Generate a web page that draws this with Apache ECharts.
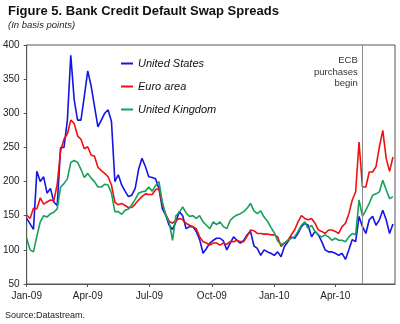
<!DOCTYPE html>
<html>
<head>
<meta charset="utf-8">
<script src="https://cdn.jsdelivr.net/npm/echarts@6/dist/echarts.min.js"></script>
<style>
  html, body { margin: 0; padding: 0; background: #fff; }
  #chart { width: 400px; height: 324px; }
</style>
</head>
<body>
<div id="chart"></div>
<script>
// Sampling grid: one observation every five days from the start date
const startDate = [2009, 0, 1];
const stepDays = 5;

// Bank CDS spreads, basis points
const unitedStates = [
  146, 138, 130, 215, 200, 207, 183, 190, 170, 165,
  250, 250, 290, 385, 320, 290, 290, 325, 362, 340,
  310, 280, 290, 300, 305, 288, 200, 210, 195, 186,
  178, 180, 190, 218, 234, 222, 207, 206, 204, 190,
  160, 151, 136, 130, 141, 156, 150, 131, 134, 134,
  127, 115, 95, 102, 110, 114, 117, 117, 113, 100,
  110, 119, 114, 110, 114, 122, 127, 106, 102, 92,
  100, 97, 95, 92, 97, 90, 105, 112, 119, 117,
  124, 134, 139, 136, 119, 127, 122, 112, 100, 97,
  97, 95, 92, 95, 86, 100, 115, 112, 149, 134,
  124, 144, 149, 136, 144, 158, 144, 124, 138
];
const euroArea = [
  151, 146, 161, 160, 176, 167, 170, 173, 172, 196,
  245, 262, 270, 290, 285, 267, 262, 248, 251, 239,
  237, 221, 216, 212, 207, 195, 170, 166, 168, 165,
  162, 162, 167, 173, 178, 182, 181, 181, 188, 190,
  167, 152, 142, 139, 143, 146, 144, 139, 136, 134,
  131, 119, 112, 110, 107, 110, 110, 107, 110, 108,
  112, 112, 114, 112, 112, 120, 129, 128, 124, 124,
  123, 123, 122, 122, 119, 105, 110, 114, 122, 129,
  141, 150, 146, 144, 146, 139, 129, 127, 124, 129,
  129, 127, 124, 134, 139, 153, 173, 185, 258, 192,
  192, 214, 214, 222, 251, 275, 234, 215, 236
];
const unitedKingdom = [
  117, 100, 97, 120, 141, 150, 148, 153, 155, 160,
  192, 197, 204, 228, 231, 228, 218, 206, 212, 205,
  200, 192, 192, 196, 195, 183, 156, 156, 152, 158,
  160, 166, 174, 183, 185, 186, 192, 186, 194, 200,
  170, 150, 141, 114, 150, 155, 163, 154, 149, 150,
  146, 150, 141, 136, 131, 141, 137, 141, 134, 131,
  143, 148, 151, 153, 156, 161, 168, 157, 153, 157,
  148, 142, 133, 125, 113, 108, 110, 114, 117, 119,
  127, 136, 141, 131, 136, 127, 122, 119, 122, 119,
  114, 117, 114, 114, 112, 119, 124, 122, 173, 149,
  158, 168, 180, 182, 185, 202, 188, 175, 178
];

const seriesNames = ['United States', 'Euro area', 'United Kingdom'];
const tickLabels = ['Jan-09', 'Apr-09', 'Jul-09', 'Oct-09', 'Jan-10', 'Apr-10'];
const tickDates = ['2009-01-01', '2009-04-01', '2009-07-01', '2009-10-01', '2010-01-01', '2010-04-01'];
const axisStart = '2009-01-01';
const axisEnd = '2010-06-28';
const ecbDate = '2010-05-10';
const ecbNote = ['ECB', 'purchases', 'begin'];

function toTime(s) {
  const p = s.split('-').map(Number);
  return new Date(p[0], p[1] - 1, p[2]).getTime();
}
const dates = unitedStates.map((_, i) =>
  new Date(startDate[0], startDate[1], startDate[2] + i * stepDays).getTime());
const pairs = vals => vals.map((v, i) => [dates[i], v]);
const tickTimes = tickDates.map(toTime);

const font = 'Arial, "Liberation Sans", sans-serif';
const chart = echarts.init(document.getElementById('chart'), null, { renderer: 'canvas' });

chart.setOption({
  animation: false,
  backgroundColor: '#fff',
  title: [{
    text: 'Figure 5. Bank Credit Default Swap Spreads',
    subtext: '(In basis points)',
    left: 8, top: 5, itemGap: 2, padding: 0,
    textStyle: { fontFamily: font, fontSize: 13, fontWeight: 'bold', color: '#111' },
    subtextStyle: { fontFamily: font, fontSize: 9.5, fontStyle: 'italic', color: '#222' }
  }, {
    text: 'Source:Datastream.',
    left: 5, bottom: 4, padding: 0,
    textStyle: { fontFamily: font, fontSize: 9, fontWeight: 'normal', color: '#222' }
  }],
  legend: {
    orient: 'vertical', left: 121, top: 58, padding: 0,
    icon: 'rect', itemWidth: 12, itemHeight: 2, itemGap: 12,
    data: seriesNames,
    textStyle: { fontFamily: font, fontSize: 11, fontStyle: 'italic', color: '#111' }
  },
  grid: { left: 25, right: 5, top: 45, bottom: 40, show: true, borderColor: '#555', borderWidth: 1 },
  xAxis: {
    // Timestamps on a linear scale, with quarter starts as ticks
    type: 'value', min: toTime(axisStart), max: toTime(axisEnd),
    axisLine: { lineStyle: { color: '#555', width: 1 } },
    axisTick: { show: true, length: 3, customValues: tickTimes, lineStyle: { color: '#555' } },
    axisLabel: {
      customValues: tickTimes, margin: 7, fontFamily: font, fontSize: 10, color: '#222',
      formatter: v => tickLabels[tickTimes.indexOf(v)] || ''
    },
    splitLine: { show: false }
  },
  yAxis: {
    type: 'value', min: 50, max: 400, interval: 50,
    axisLine: { show: true, lineStyle: { color: '#555', width: 1 } },
    axisTick: { show: true, length: 3, lineStyle: { color: '#555' } },
    axisLabel: { margin: 7, fontFamily: font, fontSize: 10, color: '#222' },
    splitLine: { show: false }
  },
  series: [
    {
      name: seriesNames[0], type: 'line', data: pairs(unitedStates), showSymbol: false,
      lineStyle: { width: 1.6, color: '#1414e6' }, itemStyle: { color: '#1414e6' },
      markLine: {
        silent: true, symbol: 'none', label: { show: false },
        lineStyle: { color: '#8c8c8c', width: 1, type: 'solid' },
        data: [{ xAxis: toTime(ecbDate) }]
      }
    },
    {
      name: seriesNames[1], type: 'line', data: pairs(euroArea), showSymbol: false,
      lineStyle: { width: 1.6, color: '#ee1111' }, itemStyle: { color: '#ee1111' }
    },
    {
      name: seriesNames[2], type: 'line', data: pairs(unitedKingdom), showSymbol: false,
      lineStyle: { width: 1.6, color: '#16a05a' }, itemStyle: { color: '#16a05a' }
    }
  ]
});

// Annotation beside the ECB line, anchored through the axis scales
const ecbX = chart.convertToPixel({ xAxisIndex: 0 }, toTime(ecbDate));
const topY = chart.convertToPixel({ yAxisIndex: 0 }, 400);
chart.setOption({
  graphic: [{
    type: 'text', x: ecbX - 4, y: topY + 10,
    style: {
      text: ecbNote.join('\n'), align: 'right', verticalAlign: 'top',
      font: '9.5px ' + font, lineHeight: 11.5, fill: '#333'
    }
  }]
});
</script>
</body>
</html>
